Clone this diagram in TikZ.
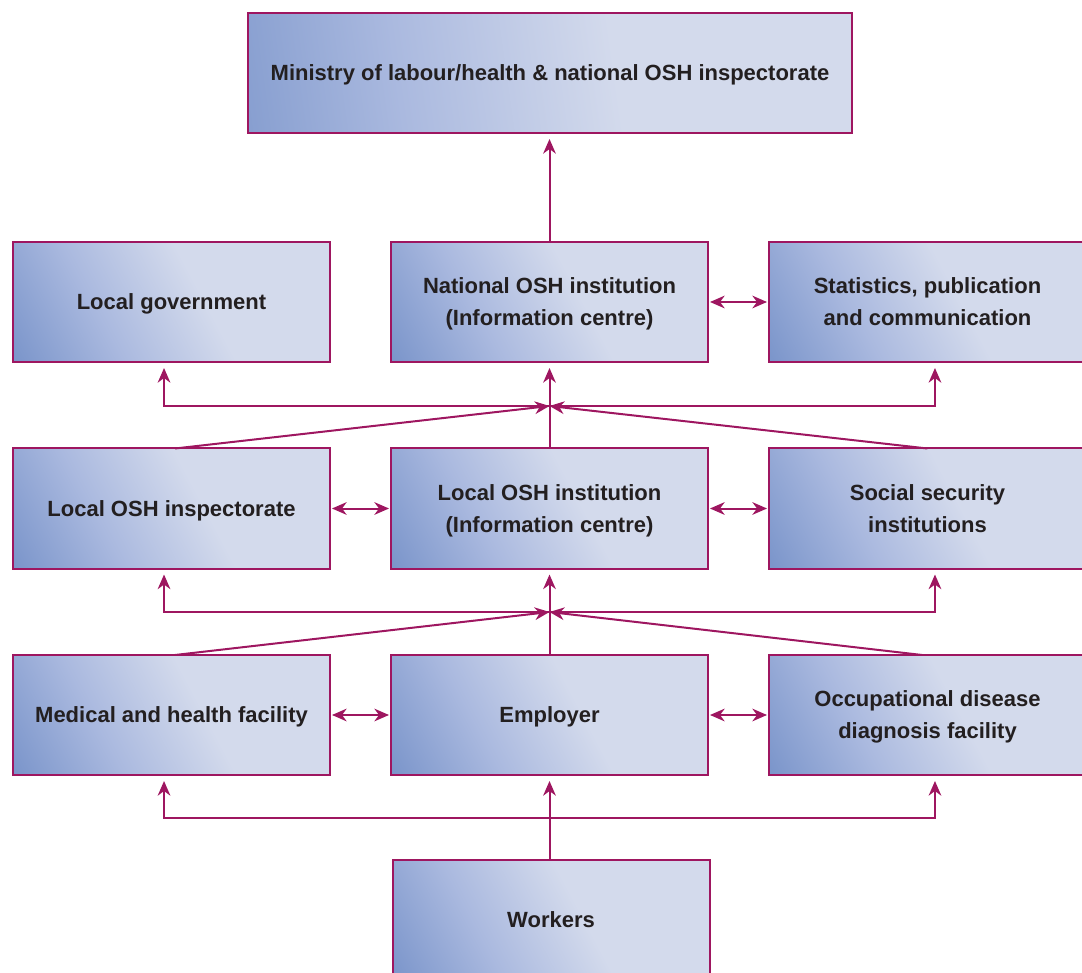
\documentclass[tikz,border=0pt]{standalone}
\usepackage{fontspec}
\setmainfont{Liberation Sans}
\usetikzlibrary{arrows.meta}
\definecolor{lnc}{RGB}{158,22,96}
\definecolor{dk}{RGB}{124,150,203}
\definecolor{md}{RGB}{170,185,223}
\definecolor{lt}{RGB}{211,218,236}
\definecolor{txt}{RGB}{35,31,32}
\pgfdeclarehorizontalshading{boxshade}{100bp}{color(0bp)=(dk); color(17bp)=(dk); color(36bp)=(md); color(56bp)=(lt); color(100bp)=(lt)}
\begin{document}
\begin{tikzpicture}[x=0.75pt,y=-0.75pt,
  box/.style={draw=lnc, line width=1.5pt, shade, shading=boxshade, shading angle=28,
    minimum width=237.75pt, minimum height=90pt, inner sep=0pt, outer sep=0pt,
    align=center, font=\bfseries\fontsize{16.5}{24}\selectfont, text=txt, text depth=0pt},
  arr/.style={draw=lnc, line width=1.5pt, -{Stealth[length=11pt,width=9.5pt,inset=3.5pt]}},
  dbl/.style={draw=lnc, line width=1.5pt, {Stealth[length=11pt,width=9.5pt,inset=3.5pt]}-{Stealth[length=11pt,width=9.5pt,inset=3.5pt]}, shorten >=1.5pt, shorten <=1.5pt}
]
\useasboundingbox (0,0) rectangle (1082,973);
\clip (0,0) rectangle (1082,973);

\node[box, minimum width=453pt, shading angle=8] (top) at (550,73) {Ministry of labour/health \& national OSH inspectorate};

\node[box] (lg)   at (171.5,302) {Local government};
\node[box] (nat)  at (549.5,302) {National OSH institution\\(Information centre)};
\node[box] (stat) at (927.5,302) {Statistics, publication\\and communication};

\node[box] (loi)  at (171.5,508.5) {Local OSH inspectorate};
\node[box] (loc)  at (549.5,508.5) {Local OSH institution\\(Information centre)};
\node[box] (ss)   at (927.5,508.5) {Social security\\institutions};

\node[box] (med)  at (171.5,715) {Medical and health facility};
\node[box] (emp)  at (549.5,715) {Employer};
\node[box] (occ)  at (927.5,715) {Occupational disease\\diagnosis facility};

\node[box] (wrk)  at (551,920) {Workers};

\coordinate (J1) at (549.5,406);
\coordinate (J2) at (549.5,612);
\coordinate (J3) at (549.5,818);

% level 1
\draw[arr, shorten >=4.5pt] (nat.north) -- (nat.north |- top.south);
\draw[dbl] (nat.east) -- (stat.west);

% level 2 -> 1
\draw[arr, shorten >=4.5pt] (loc.north) -- (loc.north |- nat.south);
\draw[arr, shorten >=4.5pt] (J1) -| ([xshift=-5.6pt]lg.south);
\draw[arr, shorten >=4.5pt] (J1) -| ([xshift=5.6pt]stat.south);
\draw[arr] ([xshift=2.6pt]loi.north) -- (J1);
\draw[arr] (ss.north) -- (J1);
\draw[dbl] (loi.east) -- (loc.west);
\draw[dbl] (loc.east) -- (ss.west);

% level 3 -> 2
\draw[arr, shorten >=4.5pt] (emp.north) -- (emp.north |- loc.south);
\draw[arr, shorten >=4.5pt] (J2) -| ([xshift=-5.6pt]loi.south);
\draw[arr, shorten >=4.5pt] (J2) -| ([xshift=5.6pt]ss.south);
\draw[arr] ([xshift=2.6pt]med.north) -- (J2);
\draw[arr] ([xshift=-4pt]occ.north) -- (J2);
\draw[dbl] (med.east) -- (emp.west);
\draw[dbl] (emp.east) -- (occ.west);

% workers -> level 3
\draw[arr, shorten >=4.5pt] (emp.south |- wrk.north) -- (emp.south);
\draw[arr, shorten >=4.5pt] (J3) -| ([xshift=-5.6pt]med.south);
\draw[arr, shorten >=4.5pt] (J3) -| ([xshift=5.6pt]occ.south);
\end{tikzpicture}
\end{document}
